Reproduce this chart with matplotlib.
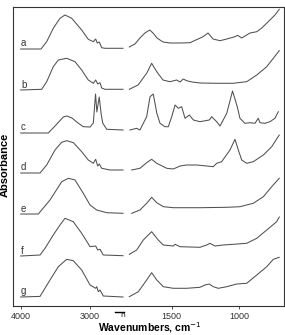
import matplotlib
matplotlib.use("Agg")
import matplotlib.pyplot as plt
import numpy as np

plt.rcParams["font.family"] = ["Liberation Sans", "DejaVu Sans"]

# spectra: (wavenumber, absorbance above own baseline, a.u.), high-wavenumber part / fingerprint part
labels = ["a", "b", "c", "d", "e", "f", "g"]
offsets = [257, 216, 173, 133, 92, 50, 9]

a_hi_w = [4000, 3707, 3625, 3530, 3433, 3361, 3264, 3120, 3025, 2952, 2918, 2895, 2866, 2831, 2784, 2524]
a_hi_a = [0, 0, 7.3, 20.7, 30.7, 34, 30.7, 19, 9.7, 7.3, 10, 6, 7, 1.3, 0.7, 0.7]
a_lo_w = [1815, 1773, 1736, 1699, 1663, 1639, 1609, 1565, 1513, 1438, 1364, 1267, 1230, 1193, 1141,
          1091, 1030, 1010, 980, 918, 868, 831, 770, 733, 701]
a_lo_a = [2, 5, 11, 16, 19, 16, 11, 7, 6, 6, 6.3, 12.3, 16, 10, 8.3, 10, 12.3, 13.7, 11, 16, 17.3, 21,
          29, 34, 39.7]

b_hi_w = [4000, 3697, 3625, 3530, 3457, 3336, 3216, 3120, 3025, 2952, 2918, 2889, 2856, 2831, 2784, 2524]
b_hi_a = [0, 0.7, 8.3, 23.3, 30, 31.7, 28.3, 20, 10, 6.7, 10, 6, 7.3, 2, 0.7, 0.7]
b_lo_w = [1815, 1750, 1686, 1649, 1611, 1565, 1513, 1463, 1438, 1414, 1389, 1349, 1290, 1166, 1045,
          943, 868, 794, 701]
b_lo_a = [0.7, 5, 16.7, 26.7, 18.3, 10, 8.3, 10, 8, 11, 9.3, 8, 7, 6.7, 6.7, 8.3, 15, 23.3, 39.3]

c_hi_w = [4000, 3602, 3505, 3385, 3336, 3260, 3173, 3097, 2999, 2952, 2920, 2901, 2867, 2841, 2817,
          2759, 2519]
c_hi_a = [0, 0, 7, 16, 17, 15, 10, 6.3, 6, 10, 39, 21, 36, 20, 10, 3.7, 3]
c_lo_w = [1810, 1760, 1736, 1686, 1661, 1637, 1611, 1587, 1550, 1525, 1500, 1475, 1451, 1426, 1401,
          1369, 1339, 1290, 1221, 1203, 1166, 1141, 1091, 1048, 1013, 993, 956, 918, 881, 857, 844,
          807, 770, 733, 708]
c_lo_a = [3, 4.7, 3, 16.3, 36.3, 39, 20, 9.7, 6.3, 6.3, 16.3, 28, 24.7, 26.3, 14.7, 18, 13, 11.3, 13,
          16.3, 11.3, 7, 19.7, 42, 26.3, 14.7, 9.7, 10.3, 9.7, 14.7, 10.3, 9.7, 11.3, 14.7, 21.3]

d_hi_w = [4000, 3721, 3625, 3505, 3409, 3336, 3240, 3120, 3025, 2952, 2918, 2889, 2866, 2831, 2711, 2519]
d_hi_a = [0, 0, 8, 23, 30.7, 32.3, 30.3, 21.3, 13, 9.7, 13.7, 7, 9, 4.7, 3, 3]
d_lo_w = [1797, 1736, 1686, 1649, 1611, 1537, 1488, 1438, 1389, 1314, 1240, 1191, 1166, 1129, 1067,
          1030, 1005, 980, 943, 894, 819, 757, 701]
d_lo_a = [3, 4.7, 10.3, 13.7, 9.7, 4.7, 4, 7, 8, 8, 7, 6.3, 9.7, 11.3, 23, 33.7, 23, 13, 9.7, 11.3,
          18, 26.3, 38]

e_hi_w = [4000, 3746, 3577, 3408, 3313, 3216, 3097, 2999, 2903, 2759, 2519]
e_hi_a = [0, 0, 14, 32.3, 35.7, 34, 20.7, 9, 4, 1.3, 0.7]
e_lo_w = [1797, 1736, 1686, 1649, 1611, 1562, 1488, 1290, 1091, 993, 894, 819, 757, 701]
e_lo_a = [0.7, 4, 10.7, 16.7, 11.3, 7.3, 6.3, 6.3, 6.7, 7.3, 10.7, 17.3, 27.3, 35.7]

f_hi_w = [4000, 3721, 3649, 3530, 3433, 3361, 3241, 3120, 2999, 2918, 2889, 2856, 2808, 2519]
f_hi_a = [0, 1, 7.7, 21, 31, 37.7, 34.3, 22.7, 9.3, 10, 6, 6.7, 1, 0.3]
f_lo_w = [1815, 1760, 1711, 1649, 1600, 1562, 1488, 1475, 1438, 1290, 1240, 1216, 1179, 1117, 1042,
          943, 868, 794, 720, 701]
f_lo_a = [1.7, 6, 16, 24.3, 16, 11, 10, 11.7, 9.3, 8.7, 11, 12.7, 10, 11, 11.7, 12.7, 17.7, 26, 34.3, 39]

g_hi_w = [4000, 3721, 3577, 3457, 3336, 3241, 3120, 2999, 2918, 2903, 2880, 2856, 2808, 2519]
g_hi_a = [0, 0.6, 17, 30.3, 37.7, 36.3, 27, 12, 8.7, 10.3, 5.3, 7, 1, 0]
g_lo_w = [1815, 1748, 1686, 1649, 1611, 1562, 1488, 1389, 1290, 1253, 1221, 1191, 1154, 1091, 1017,
          943, 868, 794, 745, 701]
g_lo_a = [0.3, 5.3, 17, 24.3, 17, 10.3, 8.7, 8.7, 9.7, 12, 13, 10.3, 8.7, 10.3, 13, 13.7, 22, 30.3,
          37.7, 39.7]

spectra = [
    (a_hi_w, a_hi_a, a_lo_w, a_lo_a),
    (b_hi_w, b_hi_a, b_lo_w, b_lo_a),
    (c_hi_w, c_hi_a, c_lo_w, c_lo_a),
    (d_hi_w, d_hi_a, d_lo_w, d_lo_a),
    (e_hi_w, e_hi_a, e_lo_w, e_lo_a),
    (f_hi_w, f_hi_a, f_lo_w, f_lo_a),
    (g_hi_w, g_hi_a, g_lo_w, g_lo_a),
]

xticks = [4000, 3000, 1500, 1000]

# broken wavenumber axis: 4000-2524 compressed, 1815-650 expanded
# (forward kept increasing; axis is inverted through the limits)
_W = np.array([500.0, 1815.0, 2524.0, 4200.0])
_P = -np.array([171.7 + (1500 - 500) * 0.1346, 171.7 - 315 * 0.1346,
                20.7 + 1476 * 0.0693, 20.7 - 200 * 0.0693])


def _fwd(w):
    return np.interp(w, _W, _P)


def _inv(p):
    return np.interp(p, _P, _W)


fig = plt.figure(figsize=(2.85, 3.35), dpi=100)
ax = fig.add_axes([13 / 285, 1 - 306 / 335, 271 / 285, 299 / 335])
ax.set_xscale("function", functions=(_fwd, _inv))

col = "#505050"
for lab, off, (hw, ha, lw, la) in zip(labels, offsets, spectra):
    ax.plot(hw, np.array(ha) + off, color=col, lw=0.75)
    ax.plot(lw, np.array(la) + off, color=col, lw=0.75)
    ax.text(3995, off + 5.5, lab, fontsize=7, color="#333333", ha="left", va="center")

ax.set_xlim(_inv(-13), _inv(-284))
ax.set_ylim(0, 299)
ax.set_yticks([])
ax.set_xticks(xticks)
ax.set_xticklabels([str(t) for t in xticks])
ax.tick_params(axis="x", length=2, width=0.6, labelsize=6.5, pad=2, colors="#333333")
for s in ax.spines.values():
    s.set_linewidth(0.8)
    s.set_color("#333333")

# axis-break marker
ax.plot([2640, 2420], [-5.5, -5.5], color="black", lw=1.0, clip_on=False)
ax.text(2520, -9.5, "h", fontsize=6, ha="center", va="center", color="#222222")

fig.text(150 / 285, 1 - 328 / 335, "Wavenumbers, cm$^{-1}$", fontsize=7.5, fontweight="bold",
         ha="center", va="center")
fig.text(5 / 285, 1 - 165 / 335, "Absorbance", fontsize=8, fontweight="bold", rotation=90,
         ha="center", va="center")

fig.savefig("out.png", dpi=100)
